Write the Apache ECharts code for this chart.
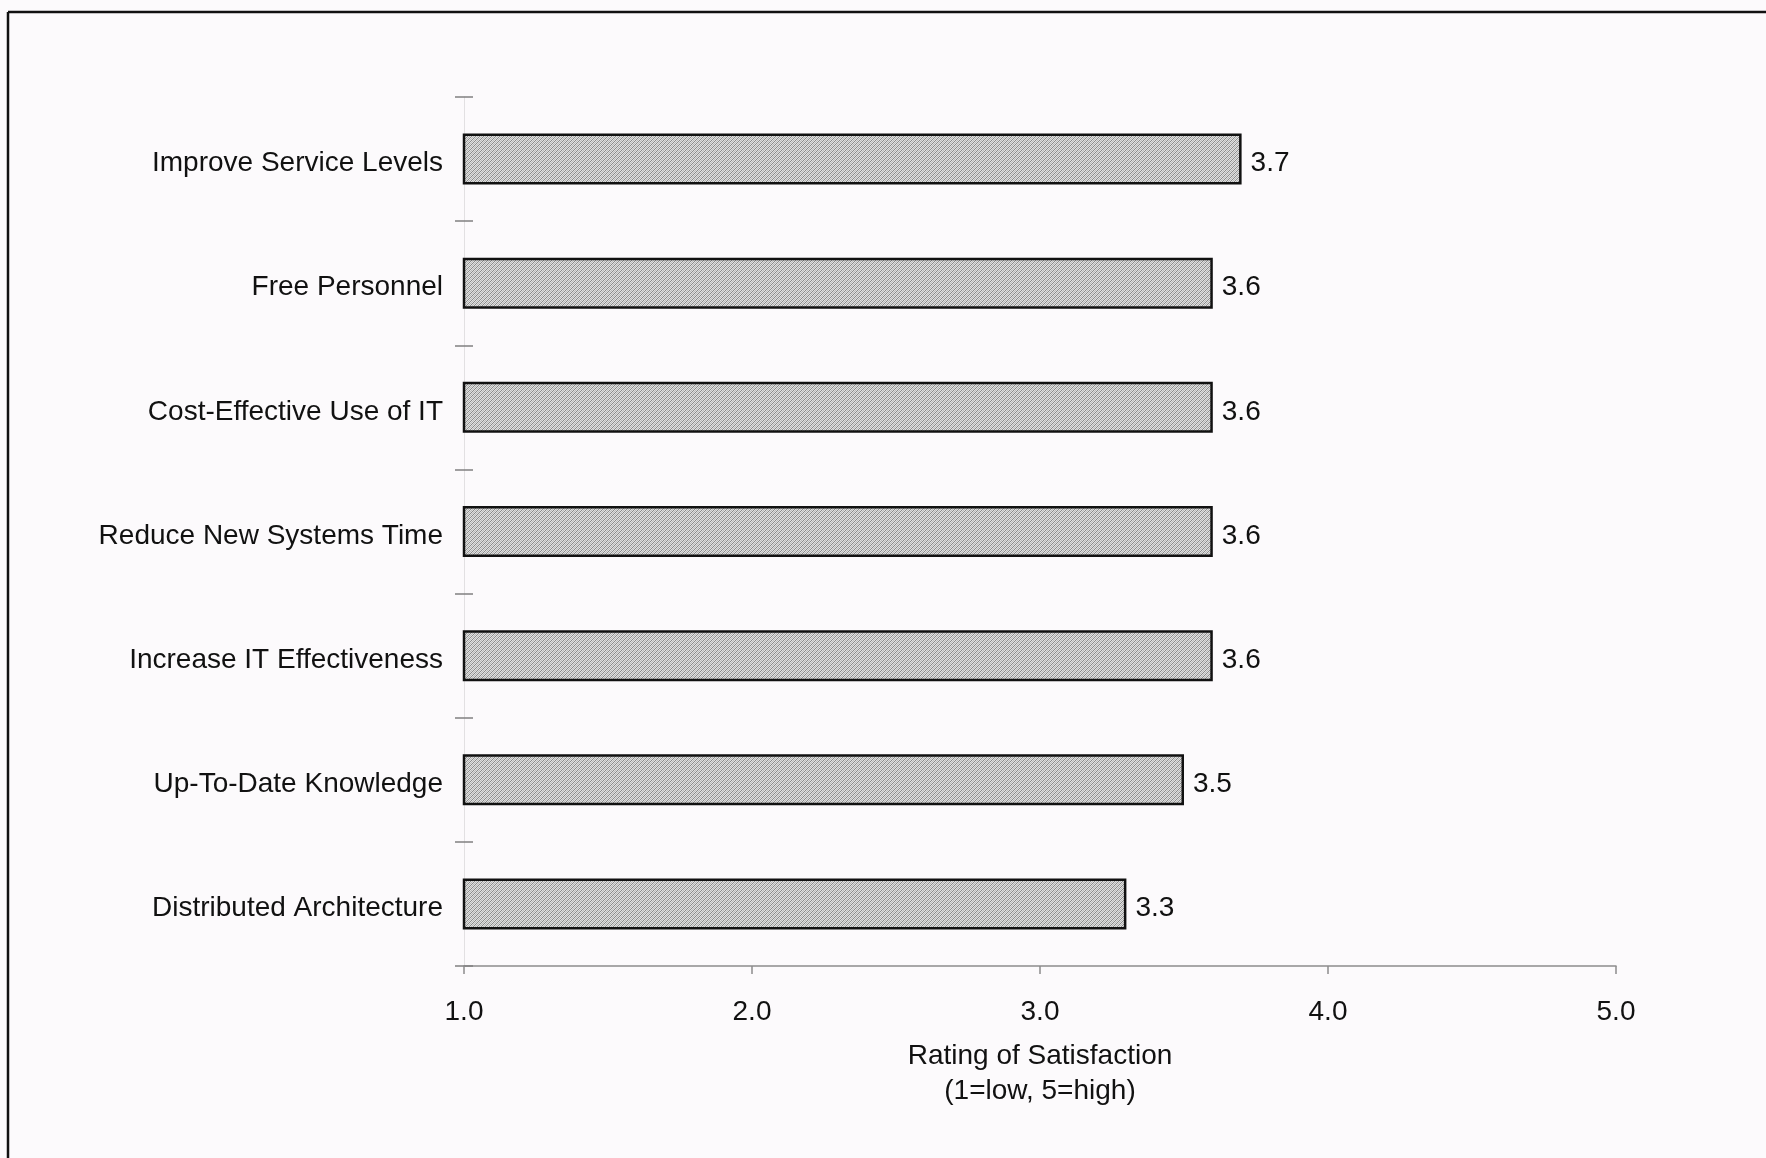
<!DOCTYPE html>
<html>
<head>
<meta charset="utf-8">
<script src="https://cdn.jsdelivr.net/npm/echarts@6/dist/echarts.min.js"></script>
<style>
  html, body { margin: 0; padding: 0; background: #fcfafc; }
  #chart { width: 1766px; height: 1158px; }
</style>
</head>
<body>
<div id="chart"></div>
<script>
// Satisfaction ratings per outsourcing objective (top to bottom)
const categories = [
  'Improve Service Levels',
  'Free Personnel',
  'Cost-Effective Use of IT',
  'Reduce New Systems Time',
  'Increase IT Effectiveness',
  'Up-To-Date Knowledge',
  'Distributed Architecture'
];
const ratings = [3.7, 3.6, 3.6, 3.6, 3.6, 3.5, 3.3];
const xTicks = ['1.0', '2.0', '3.0', '4.0', '5.0'];
const axisTitle = 'Rating of Satisfaction\n(1=low, 5=high)';

// Fine diagonal hatch used to fill the bars
function hatchPattern() {
  const c = document.createElement('canvas');
  c.width = 4; c.height = 4;
  const g = c.getContext('2d');
  g.fillStyle = '#e0e0e0';
  g.fillRect(0, 0, 4, 4);
  g.fillStyle = '#8a8a8a';
  for (let i = 0; i < 4; i++) {
    g.fillRect(i, 3 - i, 1, 1);
  }
  g.fillStyle = '#b8b8b8';
  for (let i = 0; i < 4; i++) {
    g.fillRect((i + 2) % 4, 3 - i, 1, 1);
  }
  return c;
}

const font = '"Liberation Sans", Arial, sans-serif';
const chart = echarts.init(document.getElementById('chart'), null, { renderer: 'canvas' });

chart.setOption({
  backgroundColor: '#fcfafc',
  animation: false,
  textStyle: { fontFamily: font, color: '#111' },
  grid: { left: 464, right: 150, top: 97, bottom: 192, containLabel: false },
  xAxis: {
    type: 'value',
    min: 1, max: 5, interval: 1,
    splitLine: { show: false },
    axisLine: { show: true, lineStyle: { color: '#8c8c8c', width: 1.5 } },
    axisTick: { show: true, length: 8, lineStyle: { color: '#8c8c8c', width: 1.5 } },
    axisLabel: {
      margin: 32, fontSize: 28, fontFamily: font, color: '#111',
      formatter: (v) => xTicks[Math.round(v) - 1]
    },
    name: axisTitle,
    nameLocation: 'middle',
    nameGap: 73,
    nameTextStyle: { fontSize: 28, fontFamily: font, color: '#111', lineHeight: 35, verticalAlign: 'top' }
  },
  yAxis: [
    {
      type: 'category',
      data: categories,
      inverse: true,
      position: 'left',
      axisLine: { show: true, lineStyle: { color: '#e2e0e2', width: 1 } },
      axisTick: { show: true, length: 9, lineStyle: { color: '#808080', width: 1.5 } },
      axisLabel: { margin: 21, fontSize: 28, fontFamily: font, color: '#111', verticalAlign: 'top', lineHeight: 9 }
    },
    {
      type: 'category',
      data: categories,
      inverse: true,
      position: 'left',
      axisLine: { show: false },
      axisTick: { show: true, inside: true, length: 9, lineStyle: { color: '#808080', width: 1.5 } },
      axisLabel: { show: false }
    }
  ],
  series: [{
    type: 'bar',
    data: ratings,
    yAxisIndex: 0,
    barWidth: 51,
    itemStyle: {
      color: { image: hatchPattern(), repeat: 'repeat' },
      borderColor: '#111',
      borderWidth: 2.5
    },
    label: {
      show: true,
      position: 'right',
      distance: 9,
      fontSize: 28,
      fontFamily: font,
      color: '#111',
      verticalAlign: 'top',
      lineHeight: 9,
      formatter: (p) => p.value.toFixed(1)
    }
  }],
  graphic: [
    { type: 'line', shape: { x1: 8, y1: 12, x2: 1766, y2: 12 }, style: { stroke: '#111', lineWidth: 2.5 } },
    { type: 'line', shape: { x1: 8, y1: 12, x2: 8, y2: 1158 }, style: { stroke: '#111', lineWidth: 2.5 } }
  ]
});
</script>
</body>
</html>
